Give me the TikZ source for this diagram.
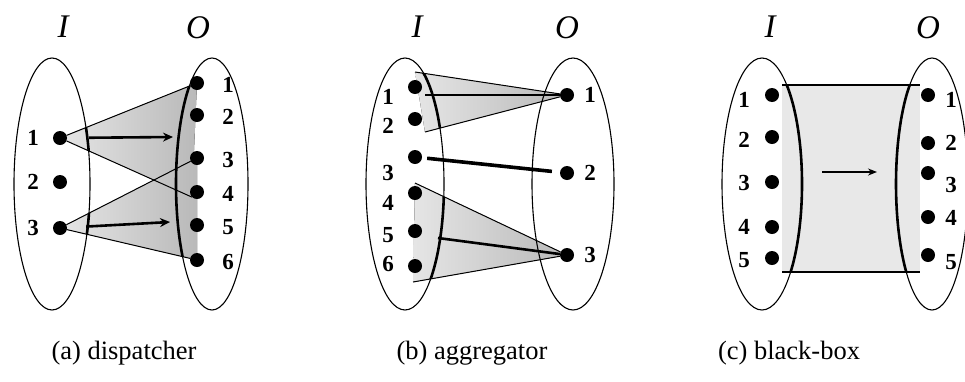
\documentclass[tikz,border=0pt]{standalone}
\usepackage{fontspec}
\setmainfont{Liberation Serif}
\usetikzlibrary{shapes.geometric,arrows.meta,backgrounds}

\begin{document}
\begin{tikzpicture}[x=1pt,y=-1pt,
    set/.style={draw,ellipse,line width=1.1pt,minimum height=252pt,inner sep=0pt},
    dot/.style={circle,fill,inner sep=0pt,minimum size=14pt},
    num/.style={font=\fontsize{23}{24}\selectfont\bfseries},
    setname/.style={font=\fontsize{33}{35}\selectfont\itshape},
    caption/.style={font=\fontsize{26.5}{30}\selectfont},
    fan/.style={left color=gray!20,right color=gray!55},
    edge/.style={line width=1pt},
    rim/.style={line width=2.6pt},
    flow/.style={line width=2.6pt,-{Stealth[length=10pt,width=9pt]}}
  ]
    \useasboundingbox (0,0) rectangle (965,381);

    % (a) dispatcher
    \node[set,minimum width=76pt] (aI) at (52,184) {};
    \node[set,minimum width=72pt] (aO) at (212,184) {};
    \foreach \n/\y in {1/138,2/182,3/228} {
      \node[dot] (ai\n) at (60,\y) {};
      \node[num] (ail\n) at (33,\y) {\n};}
    \foreach \n/\y in {1/83,2/115,3/158,4/192,5/225,6/260} {
      \node[dot] (ao\n) at (197,\y) {};
      \node[num] (aol\n) at (228,\y+2) {\n};}
    \begin{scope}[on background layer]
      \fill[fan] (ai1.center) -- (ao1.center) -- (ao4.south west) -- cycle;
      \fill[fan] (ai3.center) -- (ao3.center) -- (ao6.center) -- cycle;
      \begin{scope}
        \clip (ai1.center) -- (ao1.center) -- (ao4.south west) -- cycle
              (ai3.center) -- (ao3.center) -- (ao6.center) -- cycle;
        \draw[rim] (aI.center) ellipse [x radius=38pt,y radius=126pt]
                   (aO.center) ellipse [x radius=36pt,y radius=126pt];
      \end{scope}
    \end{scope}
    \draw[edge] (ai1) -- (ao1);
    \draw[edge] (ai1) -- (ao4.south west);
    \draw[edge] (ai3) -- (ao3);
    \draw[edge] (ai3) -- (ao6);
    \coordinate (af1) at (173,137);
    \coordinate (af3) at (170,222);
    \draw[flow,shorten <=22pt] (ai1) -- (af1);
    \draw[flow,shorten <=19pt] (ai3) -- (af3);
    \node[setname] (aIn) at (63,27) {I};
    \node[setname] (aOn) at (198,28) {O};
    \node[caption] (acap) at (124,353) {(a) dispatcher};

    % (b) aggregator
    \node[set,minimum width=78pt] (bI) at (405,184) {};
    \node[set,minimum width=82pt] (bO) at (573,184) {};
    \foreach \n/\y/\ly in {1/87/97,2/119/126,3/157/173,4/193/203,5/231/235,6/266/264} {
      \node[dot] (bi\n) at (415,\y) {};
      \node[num] (bil\n) at (388,\ly) {\n};}
    \foreach \n/\y in {1/95,2/173,3/255} {
      \node[dot] (bo\n) at (567,\y) {};
      \node[num] (bol\n) at (590,\y) {\n};}
    \coordinate (bt1) at (415,72);
    \coordinate (bt2) at (425,132);
    \coordinate (bb1) at (415,183);
    \coordinate (bb2) at (413,282);
    \coordinate (bf1) at (425,95);
    \coordinate (bf3) at (438,238);
    \begin{scope}[on background layer]
      \fill[fan] (bt1) -- (bo1.center) -- (bt2) -- cycle;
      \fill[fan] (bb1) -- (bo3.center) -- (bb2) -- cycle;
      \begin{scope}
        \clip (bt1) -- (bo1.center) -- (bt2) -- cycle
              (bb1) -- (bo3.center) -- (bb2) -- cycle;
        \draw[rim] (bI.center) ellipse [x radius=39pt,y radius=126pt];
      \end{scope}
    \end{scope}
    \draw[edge] (bt1) -- (bo1);
    \draw[edge] (bt2) -- (bo1);
    \draw[edge] (bb1) -- (bo3);
    \draw[edge] (bb2) -- (bo3);
    \draw[rim] (bf1) -- (bo1);
    \draw[rim,line width=3.6pt,shorten <=5pt,shorten >=8pt] (bi3) -- (bo2);
    \draw[rim] (bf3) -- (bo3);
    \node[setname] (bIn) at (417,27) {I};
    \node[setname] (bOn) at (567,28) {O};
    \node[caption] (bcap) at (472,353) {(b) aggregator};

    % (c) black-box
    \node[set,minimum width=80pt] (cI) at (762,184) {};
    \node[set,minimum width=72pt] (cO) at (932,184) {};
    \foreach \n/\y/\ly in {1/95/100,2/137/140,3/182/183,4/227/227,5/258/260} {
      \node[dot] (ci\n) at (772,\y) {};
      \node[num] (cil\n) at (744,\ly) {\n};}
    \foreach \n/\y/\ly in {1/95/100,2/143/143,3/173/185,4/217/218,5/255/262} {
      \node[dot] (co\n) at (928,\y) {};
      \node[num] (col\n) at (951,\ly) {\n};}
    \coordinate (cbox1) at (782,85);
    \coordinate (cbox2) at (920,272);
    \begin{scope}[on background layer]
      \fill[gray!18] (cbox1) rectangle (cbox2);
      \begin{scope}
        \clip (cbox1) rectangle (cbox2);
        \draw[rim] (cI.center) ellipse [x radius=40pt,y radius=126pt]
                   (cO.center) ellipse [x radius=36pt,y radius=126pt];
      \end{scope}
    \end{scope}
    \draw[line width=1.6pt] (cbox1) -- (cbox2 |- cbox1);
    \draw[line width=1.6pt] (cbox1 |- cbox2) -- (cbox2);
    \coordinate (cfrom) at (822,172);
    \coordinate (cto) at (877,172);
    \draw[line width=1.4pt,-{Stealth[length=9pt,width=7pt]}] (cfrom) -- (cto);
    \node[setname] (cIn) at (770,27) {I};
    \node[setname] (cOn) at (928,28) {O};
    \node[caption] (ccap) at (789,353) {(c) black-box};
  \end{tikzpicture}
\end{document}
